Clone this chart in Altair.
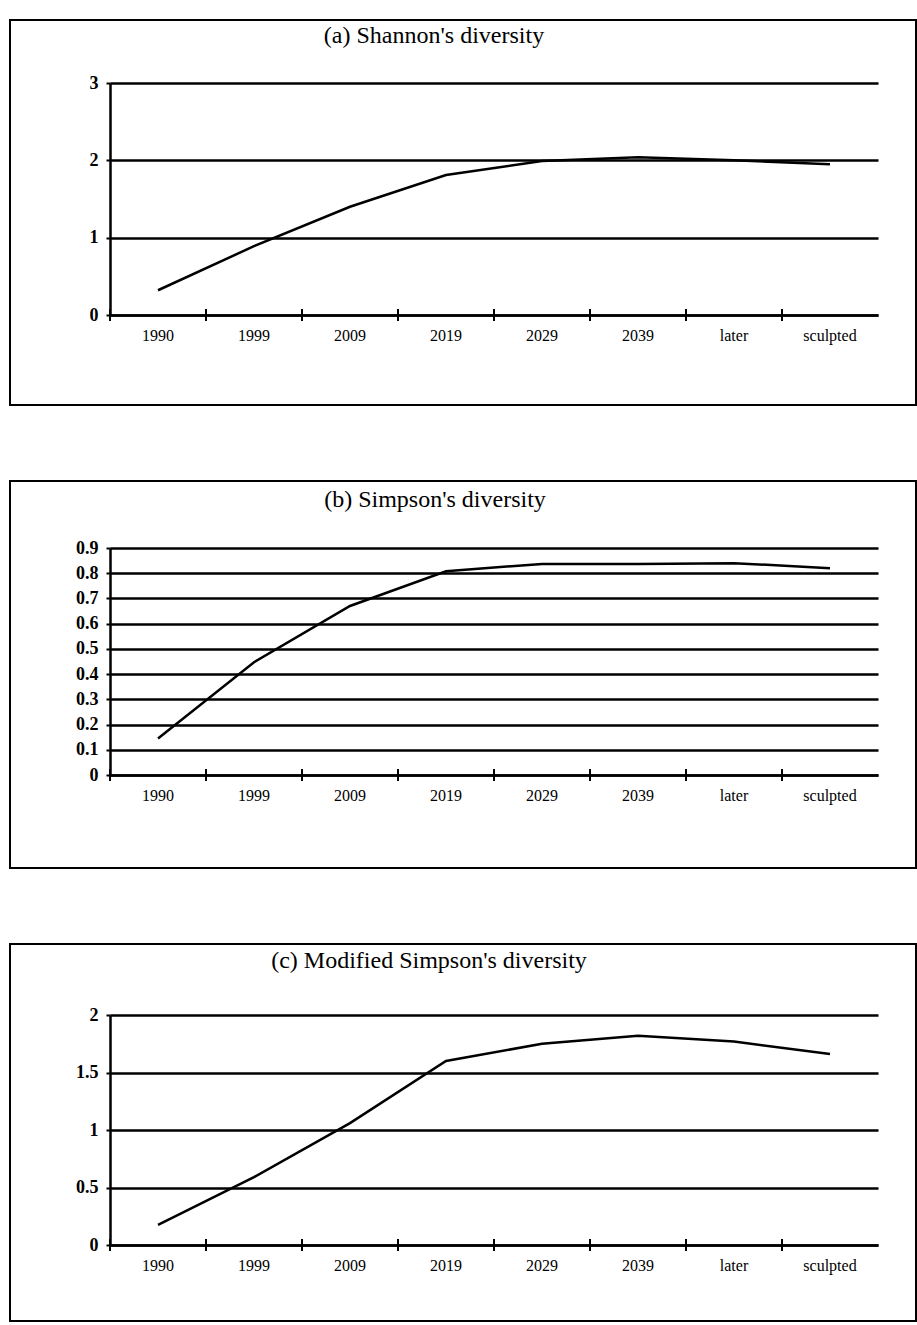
import altair as alt
import pandas as pd

# Stand periods on the x axis
periods = ["1990", "1999", "2009", "2019", "2029", "2039", "later", "sculpted"]

# Diversity indices per period
shannon = [0.32, 0.89, 1.40, 1.81, 1.99, 2.04, 2.00, 1.95]
simpson = [0.145, 0.447, 0.67, 0.808, 0.837, 0.837, 0.84, 0.82]
mod_simpson = [0.175, 0.59, 1.06, 1.60, 1.75, 1.82, 1.77, 1.66]

# Y-axis tick values for each panel
shannon_ticks = [0, 1, 2, 3]
simpson_ticks = [0, 0.1, 0.2, 0.3, 0.4, 0.5, 0.6, 0.7, 0.8, 0.9]
mod_simpson_ticks = [0, 0.5, 1, 1.5, 2]

titles = [
    "(a) Shannon's diversity",
    "(b) Simpson's diversity",
    "(c) Modified Simpson's diversity",
]

FONT = "Liberation Serif"
W = 768


def panel(values, ticks, title, height, frame_top, frame_bottom, title_x, title_y):
    df = pd.DataFrame({"period": periods, "value": values})

    x_axis = alt.Axis(
        title=None, ticks=False, labelAngle=0, labelPadding=12,
        labelFont=FONT, labelFontSize=16, labelColor="black",
        domainColor="black", domainWidth=2.5, grid=False,
    )
    x_scale = alt.Scale(paddingInner=0, paddingOuter=0)

    y = alt.Y(
        "value:Q",
        scale=alt.Scale(domain=[ticks[0], ticks[-1]], nice=False),
        axis=alt.Axis(
            title=None, values=ticks, format="~g",
            grid=True, gridColor="black", gridWidth=2.5, gridOpacity=1,
            domainColor="black", domainWidth=2.5,
            tickColor="black", tickWidth=2, tickSize=4,
            labelFont=FONT, labelFontSize=18, labelFontWeight="bold",
            labelColor="black", labelPadding=8,
        ),
    )

    line = alt.Chart(df).mark_line(color="black", strokeWidth=2.5).encode(
        x=alt.X("period:N", sort=periods, scale=x_scale, axis=x_axis),
        y=y,
    )

    # category-boundary ticks crossing the x axis
    cross_ticks = alt.Chart(df).mark_rule(color="black", strokeWidth=2).encode(
        x=alt.X("period:N", sort=periods, scale=x_scale, axis=x_axis, bandPosition=0),
        y=alt.value(height - 6),
        y2=alt.value(height + 6),
    )

    # box drawn round the whole panel
    frame = alt.Chart(pd.DataFrame({"k": [0]})).mark_rect(
        fill="transparent", stroke="black", strokeWidth=2
    ).encode(
        x=alt.value(-100),
        x2=alt.value(W + 38),
        y=alt.value(-frame_top),
        y2=alt.value(height + frame_bottom),
    )

    # panel heading, set inside the box
    heading = alt.Chart(pd.DataFrame({"t": [title]})).mark_text(
        font=FONT, fontSize=24, color="black", align="center", baseline="alphabetic"
    ).encode(
        text="t:N",
        x=alt.value(title_x),
        y=alt.value(title_y),
    )

    return alt.layer(frame, heading, line, cross_ticks).properties(
        width=W,
        height=height,
    )


chart = alt.vconcat(
    panel(shannon, shannon_ticks, titles[0], 232, 63, 90, 324, -40),
    panel(simpson, simpson_ticks, titles[1], 227, 67, 93, 325, -41),
    panel(mod_simpson, mod_simpson_ticks, titles[2], 230, 71, 76, 319, -47),
    spacing=74,
).configure_view(stroke=None).properties(
    padding={"left": 9, "top": 19, "right": 0, "bottom": 0},
    background="white",
)

chart.save("out.html", embed_options={"renderer": "svg", "actions": False})
